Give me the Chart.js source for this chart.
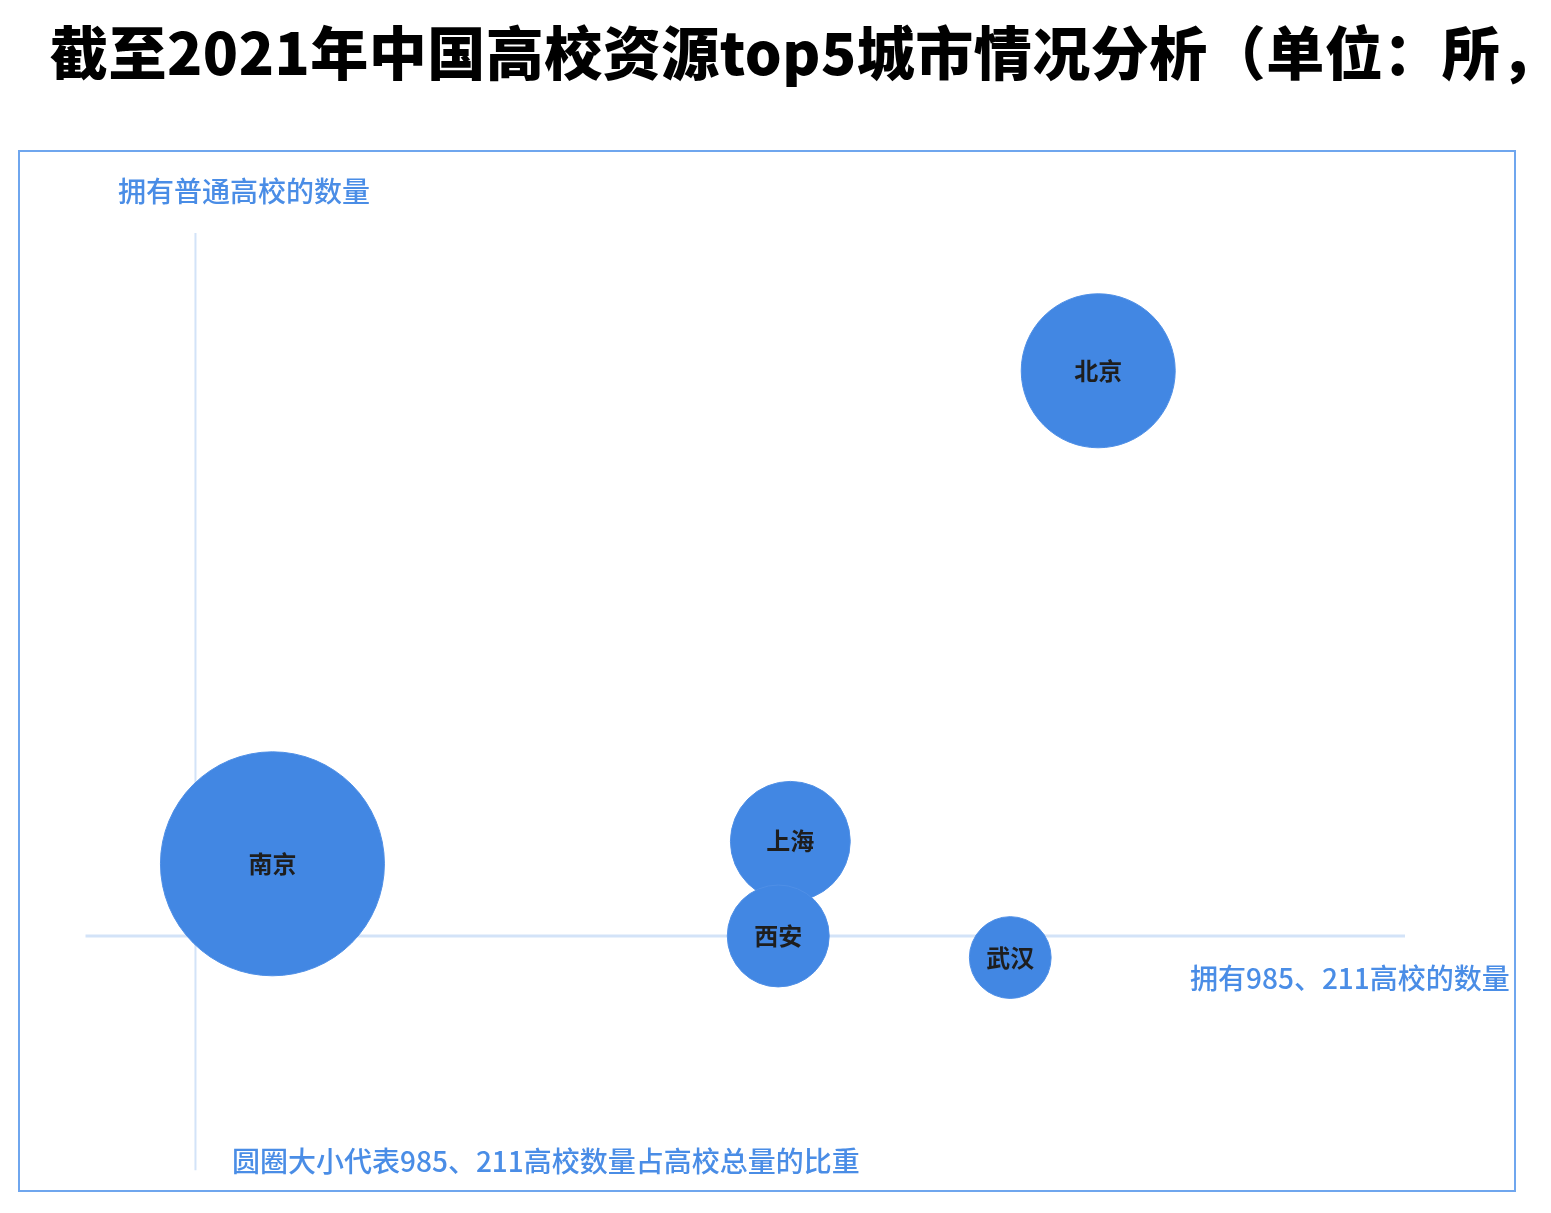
<!DOCTYPE html>
<html>
<head>
<meta charset="utf-8">
<script src="https://cdn.jsdelivr.net/npm/chart.js@4"></script>
<style>
html, body { margin: 0; padding: 0; background: #fff; overflow: hidden; }
#wrap { position: relative; width: 1551px; height: 1213px; }
#title { position: absolute; left: 50px; top: 14px; font: 900 58px "Noto Sans CJK SC"; line-height: 72px; white-space: nowrap; color: #000; letter-spacing: 0.5px; }
#frame { position: absolute; left: 18px; top: 150px; width: 1498px; height: 1042px; border: 2px solid #6fa6ee; box-sizing: border-box; }
.lbl { position: absolute; font: 500 28px "Noto Sans CJK SC"; color: #4a8de6; white-space: nowrap; line-height: 36px; }
canvas { position: absolute; left: 0; top: 0; }
</style>
</head>
<body>
<div id="wrap">
  <div id="title">截至2021年中国高校资源top5城市情况分析（单位：所，</div>
  <div id="frame"></div>
  <canvas id="myChart" width="1551" height="1213"></canvas>
  <div class="lbl" style="left:118px;top:172px;">拥有普通高校的数量</div>
  <div class="lbl" style="left:1190px;top:959px;">拥有985、211高校的数量</div>
  <div class="lbl" style="left:232px;top:1142px;">圆圈大小代表985、211高校数量占高校总量的比重</div>
</div>
<script>
// 数据（无刻度的示意图，数值按图中位置估读）
const cities = ['北京', '南京', '上海', '西安', '武汉'];
const count985211 = [92.1, 17.0, 64.1, 63.0, 84.1];   // 横轴
const countTotal = [85.3, 32.7, 35.1, 25.0, 22.7];    // 纵轴
const shareOfTotal = [27.5, 40.0, 21.4, 18.2, 14.6];  // 圆圈大小
const originX = 10, originY = 25;                     // 两条轴线交点
const axisXRange = [0, 120], axisYRange = [0, 100];   // 轴线长度

const sizeFactor = 2.8;

// 十字轴线
const crossLines = {
  id: 'crossLines',
  beforeDatasetsDraw(chart) {
    const c = chart.ctx, sx = chart.scales.x, sy = chart.scales.y;
    const px = sx.getPixelForValue(originX);
    const py = sy.getPixelForValue(originY);
    c.save();
    c.strokeStyle = '#d3e3f8';
    c.lineWidth = 3;
    c.beginPath();
    c.moveTo(sx.getPixelForValue(axisXRange[0]), py);
    c.lineTo(sx.getPixelForValue(axisXRange[1]), py);
    c.stroke();
    c.lineWidth = 2;
    c.beginPath();
    c.moveTo(px, sy.getPixelForValue(axisYRange[1]));
    c.lineTo(px, sy.getPixelForValue(axisYRange[0]));
    c.stroke();
    c.restore();
  }
};

const bubbleLabels = {
  id: 'bubbleLabels',
  afterDatasetsDraw(chart) {
    const c = chart.ctx;
    const meta = chart.getDatasetMeta(0);
    c.save();
    c.font = 'bold 24px "Noto Sans CJK SC"';
    c.fillStyle = '#1e1e1e';
    c.textAlign = 'center';
    c.textBaseline = 'middle';
    meta.data.forEach((pt, i) => c.fillText(cities[i], pt.x, pt.y));
    c.restore();
  }
};

var ctx = document.getElementById('myChart').getContext('2d');
var myChart = new Chart(ctx, {
  type: 'bubble',
  data: {
    labels: cities,
    datasets: [{
      data: cities.map((c, i) => ({ x: count985211[i], y: countTotal[i], r: shareOfTotal[i] * sizeFactor })),
      backgroundColor: '#4287e3',
      borderColor: '#4f8fe6',
      borderWidth: 1,
      hoverRadius: 0
    }]
  },
  options: {
    responsive: false,
    animation: false,
    events: [],
    layout: { padding: { left: 113, right: 146, top: 233, bottom: 113 } },
    plugins: { legend: { display: false }, tooltip: { enabled: false } },
    scales: {
      x: { type: 'linear', min: 2.5, max: 120, display: false },
      y: { type: 'linear', min: 7.5, max: 100, display: false }
    }
  },
  plugins: [crossLines, bubbleLabels]
});
</script>
</body>
</html>
